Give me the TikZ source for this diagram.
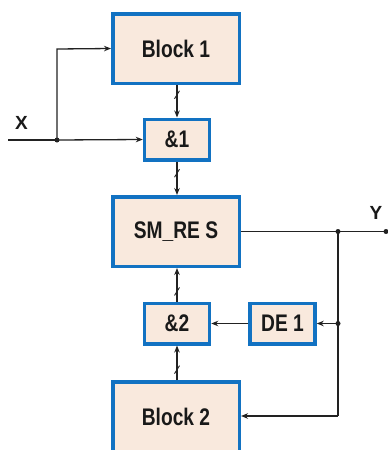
\documentclass[tikz,border=0pt]{standalone}
\usepackage{fontspec}
\setmainfont{Liberation Sans}
\usetikzlibrary{calc,arrows.meta}
\definecolor{boxfill}{HTML}{F9E9DD}
\definecolor{boxline}{HTML}{1272C2}
\definecolor{wire}{HTML}{222222}
\newcommand{\narrow}[1]{\scalebox{0.8}[1]{#1}}
\tikzset{
  x=1pt,y=1pt,
  blk/.style={draw=boxline,fill=boxfill,line width=3.5pt,inner sep=0pt,
    font=\fontsize{24}{26}\selectfont\bfseries,text=black!90},
  big/.style={blk,minimum width=126.5pt,minimum height=69.5pt},
  small/.style={blk,minimum width=65pt,minimum height=40.5pt},
  wireline/.style={draw=wire,line width=1.3pt},
  arr/.style={wireline,-{Stealth[length=7pt,width=5.5pt]}},
  slashmark/.style={draw=wire,line width=0.9pt},
  dot/.style={circle,fill=wire,inner sep=0pt,minimum size=5pt},
  lbl/.style={font=\fontsize{19}{21}\selectfont\bfseries,text=black!90}
}
\begin{document}
\begin{tikzpicture}
\useasboundingbox (0,0) rectangle (388,-450);
\node[big] (b1) at (176,-48.5) {\narrow{Block 1}};
\node[small] (and1) at (177,-139.5) {\narrow{\&1}};
\node[big] (sm) at (176,-231.5) {\narrow{SM\_RE S}};
\node[small] (and2) at (177,-323.5) {\narrow{\&2}};
\node[small] (de1) at (282.5,-323.5) {\narrow{DE 1}};
\node[big] (b2) at (176,-416.5) {\narrow{Block 2}};

\coordinate (xin) at (8,-140);
\node[dot] (jx) at (57,-140) {};
\coordinate (jxup) at (57,-49);
\node[dot] (jy) at (338,-231.5) {};
\node[dot] (yout) at (386,-231.5) {};
\node[dot] (jd) at (338,-323.5) {};
\coordinate (jb) at (338,-416);

\node[lbl] (xl) at (21.5,-123) {X};
\node[lbl] (yl) at (376,-213) {Y};

% X input
\draw[wireline] (xin) -- (jx.center);
\draw[arr] (jx.center) -- (and1.west);
\draw[arr] (jx.center) -- (jxup) -- (b1.west);

% vertical bus connectors
\draw[arr] (b1.south -| and1.north) -- (and1.north);
\draw[arr] (and1.south) -- (and1.south |- sm.north);
\draw[arr] (and2.north) -- (and2.north |- sm.south);
\draw[arr] (b2.north -| and2.south) -- (and2.south);

\draw[slashmark] ($(b1.south -| and1.north)!0.3!(and1.north)$) +(-2.5,-4) -- +(2.5,4);
\draw[slashmark] ($(and1.south)!0.35!(and1.south |- sm.north)$) +(-2.5,-4) -- +(2.5,4);
\draw[slashmark] ($(and2.north)!0.3!(and2.north |- sm.south)$) +(-2.5,-4) -- +(2.5,4);
\draw[slashmark] ($(b2.north -| and2.south)!0.3!(and2.south)$) +(-2.5,-4) -- +(2.5,4);

% output and feedback
\draw[wireline] (sm.east) -- (yout.center);
\draw[wireline] (jy.center) -- (jb);
\draw[arr] (jd.center) -- (de1.east);
\draw[arr] (de1.west) -- (and2.east);
\draw[arr] (jb) -- (b2.east |- jb);
\end{tikzpicture}
\end{document}
